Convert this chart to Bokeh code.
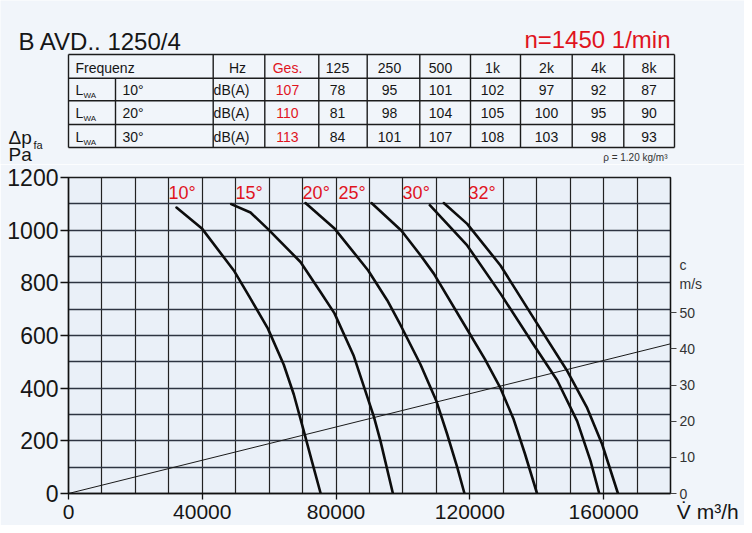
from bokeh.plotting import figure
from bokeh.models import Range1d, LinearAxis, FixedTicker, NumeralTickFormatter
from bokeh.layouts import column
from bokeh.core.properties import value
from bokeh.embed import file_html
from bokeh.resources import INLINE

# ---------------- data ----------------
title_text = "B AVD.. 1250/4"
speed_text = "n=1450 1/min"
density_text = "ρ = 1.20 kg/m³"
freq_header = ["Hz", "Ges.", "125", "250", "500", "1k", "2k", "4k", "8k"]
row_angles = ["10°", "20°", "30°"]
row_unit = "dB(A)"
lwa_total = [107, 110, 113]
lwa_10 = [78, 95, 101, 102, 97, 92, 87]
lwa_20 = [81, 98, 104, 105, 100, 95, 90]
lwa_30 = [84, 101, 107, 108, 103, 98, 93]

curve_angles = ["10°", "15°", "20°", "25°", "30°", "32°"]
flow_10 = [32290, 39980, 49430, 54420, 59590, 64370, 67370, 70360, 72870, 75400]
dp_10 = [1086, 1005, 847, 740, 627, 489, 376, 237, 118, 0]
flow_15 = [48650, 54420, 59590, 69370, 75350, 79530, 85310, 91280, 93290, 97000]
dp_15 = [1099, 1067, 1005, 879, 765, 684, 522, 293, 199, 0]
flow_20 = [70860, 79620, 89610, 95290, 99270, 105250, 110030, 113230, 116220, 118400]
dp_20 = [1103, 1005, 847, 734, 640, 490, 350, 225, 100, 0]
flow_25 = [90600, 99570, 105250, 109230, 119300, 124500, 129000, 133000, 136500, 140100]
dp_25 = [1103, 998, 905, 835, 621, 510, 404, 285, 150, 0]
flow_30 = [108040, 119210, 129170, 139130, 146110, 152090, 156080, 158700]
dp_30 = [1095, 942, 759, 564, 430, 275, 124, 0]
flow_32 = [112220, 119210, 129170, 139130, 148900, 155080, 159560, 164300]
dp_32 = [1103, 1024, 866, 665, 470, 325, 187, 0]

velocity_flow = [0, 180000]
velocity_c = [0, 41.4]

x_ticks = [0, 40000, 80000, 120000, 160000]
y_ticks = [0, 200, 400, 600, 800, 1000, 1200]
c_ticks = [0, 10, 20, 30, 40, 50]
x_title = "V\u0307  m³/h"
c_title = "c\nm/s"
y_title = "Δp"
y_title_sub = "fa"
y_unit = "Pa"

# ---------------- style / layout ----------------
FONT = "Liberation Sans"
RED = "#e0141e"
INK = "#161616"
BG = "#f1f5fa"
PLOT_BG = "#eaf0f8"
W = 744
H_HEAD = 164
H_CHART = 525 - H_HEAD
FRAME_TOP = 177 - H_HEAD
X_MAX, Y_MAX, C_MAX = 180000, 1200, 87.4
BASE_SHIFT = 0.36   # em: correction so that the given y is the text baseline


def no_align(fig):
    try:
        fig.frame_align = False
    except Exception:
        pass


# ---------------- header (title + table) ----------------
head = figure(width=W, height=H_HEAD, x_range=Range1d(0, W), y_range=Range1d(H_HEAD, 0),
              x_axis_type=None, y_axis_type=None, toolbar_location=None,
              output_backend="svg", min_border=0, title=None)
no_align(head)
head.outline_line_color = None
head.background_fill_color = BG
head.border_fill_color = BG


def htext(xs, ys, texts, size, color=INK, align="left"):
    px = float(size.replace("px", ""))
    head.text(x=xs, y=[y - BASE_SHIFT * px for y in ys], text=texts, text_color=color,
              text_font=value(FONT), text_font_size=size, text_align=align,
              text_baseline="alphabetic")


htext([18], [50], [title_text], "24px")
htext([670], [48], [speed_text], "24px", color=RED, align="right")

col_edges = [68, 212.7, 264.3, 318.3, 366.7, 419.3, 470, 520, 571.7, 623.3, 674]
row_edges = [54, 77.8, 100.3, 124, 147]
split_x = 115
x0 = [col_edges[0]] * len(row_edges) + col_edges + [split_x]
x1 = [col_edges[-1]] * len(row_edges) + col_edges + [split_x]
y0 = row_edges + [row_edges[0]] * len(col_edges) + [row_edges[1]]
y1 = row_edges + [row_edges[-1]] * len(col_edges) + [row_edges[-1]]
head.segment(x0=x0, y0=y0, x1=x1, y1=y1, line_color="#1c1c1c", line_width=1.4)

text_cx = [237, 287, 337, 389, 440, 492, 546, 598, 648.5]
unit_cx = 231
baselines = [73, 95, 118, 142]

htext(text_cx[:1] + text_cx[2:], [baselines[0]] * 8, freq_header[:1] + freq_header[2:], "14px",
      align="center")
htext([text_cx[1]], [baselines[0]], [freq_header[1]], "14px", color=RED, align="center")
htext([75], [baselines[0]], ["Frequenz"], "14px")
rows = [lwa_10, lwa_20, lwa_30]
for r in range(3):
    b = baselines[r + 1]
    htext([75], [b], ["L"], "14px")
    htext([83], [b + 3], ["WA"], "8px")
    htext([122], [b], [row_angles[r]], "14px")
    htext([unit_cx], [b], [row_unit], "14px", align="center")
    htext([text_cx[1]], [b], [str(lwa_total[r])], "14px", color=RED, align="center")
    htext(text_cx[2:], [b] * len(rows[r]), [str(v) for v in rows[r]], "14px", align="center")

htext([8], [144], [y_title], "19px")
htext([33], [148], [y_title_sub], "11px")
htext([8], [160.5], [y_unit], "19px")
htext([667], [161], [density_text], "10px", color="#333333", align="right")

# ---------------- chart ----------------
p = figure(width=W, height=H_CHART, x_range=Range1d(0, X_MAX), y_range=Range1d(0, Y_MAX),
           toolbar_location=None, output_backend="svg", title=None,
           min_border_left=68, min_border_right=74, min_border_top=FRAME_TOP,
           min_border_bottom=30)
no_align(p)
p.background_fill_color = PLOT_BG
p.border_fill_color = BG
p.outline_line_color = "#1c1c1c"
p.outline_line_width = 1.3
p.extra_y_ranges = {"c": Range1d(0, C_MAX)}

p.xgrid.ticker = FixedTicker(ticks=list(range(0, X_MAX + 1, 10000)))
p.ygrid.ticker = FixedTicker(ticks=list(range(0, Y_MAX + 1, 100)))
p.xgrid.grid_line_color = "#222222"
p.xgrid.grid_line_width = 1.2
p.ygrid.grid_line_color = "#2e3442"
p.ygrid.grid_line_width = 1.3

# bottom axis: labels on major ticks (incl. the axis title at the far end,
# padded so it is pushed against the right edge), tick marks drawn as minor ticks
x_end_tick = X_MAX - 1
xa = p.xaxis[0]
xa.ticker = FixedTicker(ticks=x_ticks + [x_end_tick], minor_ticks=x_ticks)
xa.formatter = NumeralTickFormatter(format="0")
xa.major_label_overrides = {x_end_tick: "\u00a0" * 28 + x_title}
xa.major_label_text_font_size = "21px"
xa.major_tick_out = 6
xa.major_tick_in = 0
xa.major_tick_line_color = None
xa.minor_tick_out = 6
xa.minor_tick_in = 0
xa.minor_tick_line_color = "#111111"
xa.minor_tick_line_width = 1.3
xa.major_label_standoff = 0

ya = p.yaxis[0]
ya.ticker = FixedTicker(ticks=y_ticks)
ya.major_label_text_font_size = "23px"
ya.major_tick_out = 8
ya.major_tick_in = 0
ya.minor_tick_line_color = None
ya.major_tick_line_color = "#111111"
ya.major_tick_line_width = 1.3
ya.major_label_standoff = 2

for ax in (xa, ya):
    ax.axis_line_color = "#111111"
    ax.axis_line_width = 1.5
    ax.major_label_text_font = FONT
    ax.major_label_text_color = INK

c_title_pos = 60.5
ra = LinearAxis(y_range_name="c", ticker=FixedTicker(ticks=c_ticks + [c_title_pos], minor_ticks=c_ticks))
ra.major_label_overrides = {c_title_pos: c_title}
ra.axis_line_color = "#111111"
ra.axis_line_width = 1.3
ra.major_tick_in = 0
ra.major_tick_out = 6
ra.major_tick_line_color = None
ra.minor_tick_in = 0
ra.minor_tick_out = 6
ra.minor_tick_line_color = "#444444"
ra.major_label_standoff = 3
ra.major_label_text_font = FONT
ra.major_label_text_font_size = "14px"
ra.major_label_text_color = "#333333"
p.add_layout(ra, "right")

# velocity line (right axis)
p.line(velocity_flow, velocity_c, y_range_name="c", line_color="#1a1a1a", line_width=1.0)

# fan curves
for fl, dp in [(flow_10, dp_10), (flow_15, dp_15), (flow_20, dp_20),
               (flow_25, dp_25), (flow_30, dp_30), (flow_32, dp_32)]:
    p.line(fl, dp, line_color="#0d0d0d", line_width=2.6, line_cap="round", line_join="round")

label_flow = [29900, 49900, 70000, 80700, 99900, 119600]
p.text(x=label_flow, y=[1142] * len(curve_angles), text=curve_angles, text_color=RED,
       text_font=value(FONT), text_font_size="18px", text_align="left", text_baseline="alphabetic")

layout = column(head, p, spacing=0)
open("out.html", "w").write(file_html(layout, INLINE))
